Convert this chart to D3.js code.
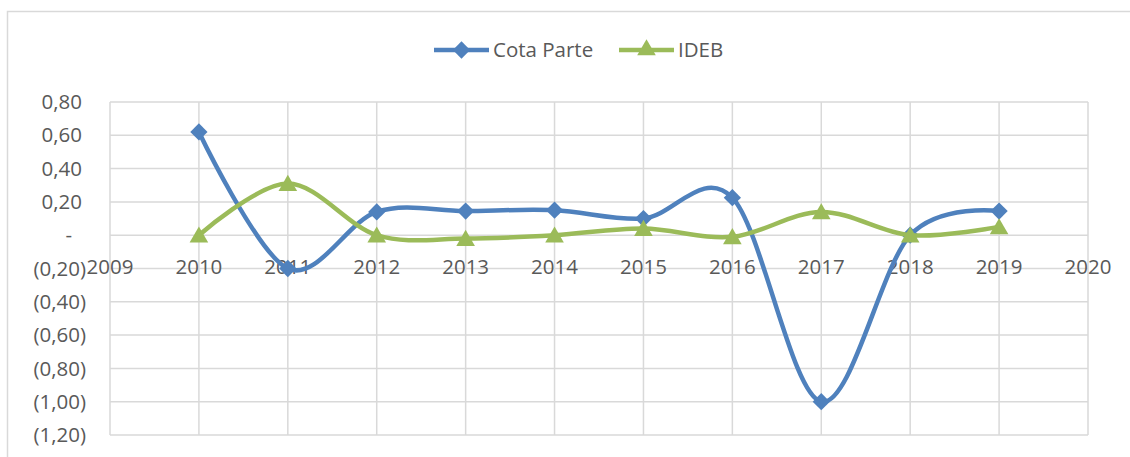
<!DOCTYPE html>
<html>
<head>
<meta charset="utf-8">
<script src="https://cdn.jsdelivr.net/npm/d3@7"></script>
<style>
  body { margin: 0; background: #fff; }
  text { font-family: "Open Sans", "Noto Sans", sans-serif; fill: #595959; }
</style>
</head>
<body>
<svg width="1130" height="457"></svg>
<script>
const years = [2010, 2011, 2012, 2013, 2014, 2015, 2016, 2017, 2018, 2019];
const cotaParte = [0.62, -0.20, 0.14, 0.145, 0.15, 0.10, 0.225, -1.00, 0.00, 0.145];
const ideb = [0.00, 0.31, 0.00, -0.02, 0.00, 0.04, -0.01, 0.14, 0.00, 0.05];
const xTicks = d3.range(2009, 2021);
const yTicks = [0.8, 0.6, 0.4, 0.2, 0, -0.2, -0.4, -0.6, -0.8, -1.0, -1.2];

const svg = d3.select('svg');
const margin = {top: 102, left: 110, right: 42, bottom: 22};
const width = +svg.attr('width');
const height = +svg.attr('height');

// chart frame
svg.append('rect')
    .attr('x', 7.5).attr('y', 11.5)
    .attr('width', 1140).attr('height', 470)
    .attr('fill', 'none').attr('stroke', '#d9d9d9').attr('stroke-width', 1.5);

const x = d3.scaleLinear().domain([2009, 2020]).range([margin.left, width - margin.right]);
const y = d3.scaleLinear().domain([-1.2, 0.8]).range([height - margin.bottom, margin.top]);

const grid = svg.append('g').attr('stroke', '#d9d9d9').attr('stroke-width', 1.5);
grid.selectAll('.h').data(yTicks).join('line')
    .attr('x1', x(2009)).attr('x2', x(2020))
    .attr('y1', d => y(d)).attr('y2', d => y(d));
grid.selectAll('.v').data(xTicks).join('line')
    .attr('x1', d => x(d)).attr('x2', d => x(d))
    .attr('y1', y(0.8)).attr('y2', y(-1.2));

const fmt = v => {
  const s = Math.abs(v).toFixed(2).replace('.', ',');
  if (Math.abs(v) < 1e-9) return '-';
  return v < 0 ? '(' + s + ')' : s;
};

svg.append('g').selectAll('text').data(yTicks).join('text')
    .attr('x', d => Math.abs(d) < 1e-9 ? 72 : (d < 0 ? 86 : 82))
    .attr('y', d => y(d))
    .attr('dy', '0.35em')
    .attr('text-anchor', 'end')
    .style('font-size', '20.5px')
    .text(fmt);

svg.append('g').selectAll('text').data(xTicks).join('text')
    .attr('x', d => x(d))
    .attr('y', y(0) + 32)
    .attr('dy', '0.35em')
    .attr('text-anchor', 'middle')
    .style('font-size', '20.5px')
    .text(d => d);

const line = d3.line().x(d => x(d[0])).y(d => y(d[1])).curve(d3.curveCardinal.tension(0));

const series = [
  {name: 'Cota Parte', values: cotaParte, color: '#4F81BD', symbol: d3.symbolDiamond2},
  {name: 'IDEB', values: ideb, color: '#9BBB59', symbol: d3.symbolTriangle}
];

series.forEach(s => {
  const pts = years.map((yr, i) => [yr, s.values[i]]);
  svg.append('path')
      .attr('d', line(pts))
      .attr('fill', 'none')
      .attr('stroke', s.color)
      .attr('stroke-width', 4.5)
      .attr('stroke-linejoin', 'round');
  svg.append('g').selectAll('path').data(pts).join('path')
      .attr('transform', d => `translate(${x(d[0])},${y(d[1]) + (s.symbol === d3.symbolTriangle ? 2 : 0)})`)
      .attr('d', d3.symbol(s.symbol, s.symbol === d3.symbolTriangle ? 150 : 190))
      .attr('fill', s.color);
});

// legend
const legend = [
  {x0: 434, tx: 493},
  {x0: 619, tx: 678}
];
series.forEach((s, i) => {
  const g = svg.append('g');
  const L = legend[i];
  g.append('line')
      .attr('x1', L.x0).attr('x2', L.x0 + 55)
      .attr('y1', 50).attr('y2', 50)
      .attr('stroke', s.color).attr('stroke-width', 4.5);
  g.append('path')
      .attr('transform', `translate(${L.x0 + 27.5},50)`)
      .attr('d', d3.symbol(s.symbol, s.symbol === d3.symbolTriangle ? 150 : 190))
      .attr('fill', s.color);
  g.append('text')
      .attr('x', L.tx).attr('y', 50).attr('dy', '0.35em')
      .style('font-size', '20.5px')
      .text(s.name);
});
</script>
</body>
</html>
